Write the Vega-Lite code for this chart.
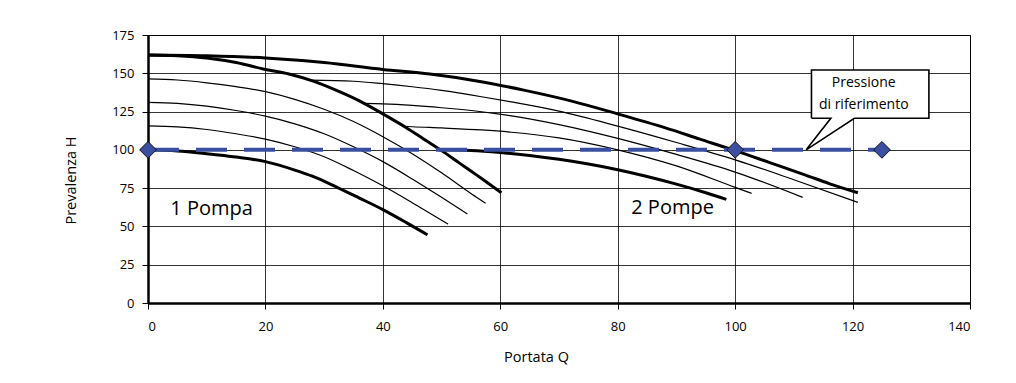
{
  "$schema": "https://vega.github.io/schema/vega-lite/v6.json",
  "width": 822,
  "height": 268,
  "autosize": {"type": "none"},
  "padding": {"left": 148, "top": 35, "right": 46, "bottom": 80},
  "background": "white",
  "config": {
    "view": {"stroke": "#000", "strokeWidth": 1},
    "font": "Open Sans",
    "axis": {
      "gridColor": "#000", "gridWidth": 0.8, "gridOpacity": 1,
      "domainColor": "#000", "domainWidth": 2.5,
      "tickColor": "#000", "tickSize": 6, "tickWidth": 1,
      "labelColor": "#000", "labelFontSize": 13, "labelFont": "Open Sans",
      "titleColor": "#000", "titleFontSize": 14.5, "titleFontWeight": "normal", "titleFont": "Open Sans"
    }
  },
  "datasets": {
    "curve": [
      {"curva": "1P-max", "livello": "spessa", "Q": 0, "H": 162},
      {"curva": "1P-max", "livello": "spessa", "Q": 5, "H": 161.5},
      {"curva": "1P-max", "livello": "spessa", "Q": 10, "H": 160},
      {"curva": "1P-max", "livello": "spessa", "Q": 15, "H": 157},
      {"curva": "1P-max", "livello": "spessa", "Q": 20, "H": 152.5},
      {"curva": "1P-max", "livello": "spessa", "Q": 24, "H": 149.5},
      {"curva": "1P-max", "livello": "spessa", "Q": 28, "H": 145},
      {"curva": "1P-max", "livello": "spessa", "Q": 32, "H": 139},
      {"curva": "1P-max", "livello": "spessa", "Q": 36, "H": 132},
      {"curva": "1P-max", "livello": "spessa", "Q": 40, "H": 123.5},
      {"curva": "1P-max", "livello": "spessa", "Q": 44, "H": 114.5},
      {"curva": "1P-max", "livello": "spessa", "Q": 47, "H": 107},
      {"curva": "1P-max", "livello": "spessa", "Q": 50, "H": 99.5},
      {"curva": "1P-max", "livello": "spessa", "Q": 53, "H": 91.5},
      {"curva": "1P-max", "livello": "spessa", "Q": 56, "H": 83.5},
      {"curva": "1P-max", "livello": "spessa", "Q": 58, "H": 78},
      {"curva": "1P-max", "livello": "spessa", "Q": 60.2, "H": 72},

      {"curva": "1P-146", "livello": "sottile", "Q": 0, "H": 146.3},
      {"curva": "1P-146", "livello": "sottile", "Q": 5, "H": 145.6},
      {"curva": "1P-146", "livello": "sottile", "Q": 10, "H": 143.8},
      {"curva": "1P-146", "livello": "sottile", "Q": 15, "H": 141.3},
      {"curva": "1P-146", "livello": "sottile", "Q": 20, "H": 138},
      {"curva": "1P-146", "livello": "sottile", "Q": 25, "H": 133},
      {"curva": "1P-146", "livello": "sottile", "Q": 30, "H": 126.5},
      {"curva": "1P-146", "livello": "sottile", "Q": 35, "H": 118.5},
      {"curva": "1P-146", "livello": "sottile", "Q": 40, "H": 108.6},
      {"curva": "1P-146", "livello": "sottile", "Q": 45, "H": 97.5},
      {"curva": "1P-146", "livello": "sottile", "Q": 50, "H": 85},
      {"curva": "1P-146", "livello": "sottile", "Q": 55, "H": 71.5},
      {"curva": "1P-146", "livello": "sottile", "Q": 57.5, "H": 65.1},

      {"curva": "1P-131", "livello": "sottile", "Q": 0, "H": 131},
      {"curva": "1P-131", "livello": "sottile", "Q": 5, "H": 130.3},
      {"curva": "1P-131", "livello": "sottile", "Q": 10, "H": 128.5},
      {"curva": "1P-131", "livello": "sottile", "Q": 15, "H": 125.7},
      {"curva": "1P-131", "livello": "sottile", "Q": 20, "H": 122},
      {"curva": "1P-131", "livello": "sottile", "Q": 25, "H": 117},
      {"curva": "1P-131", "livello": "sottile", "Q": 30, "H": 110.5},
      {"curva": "1P-131", "livello": "sottile", "Q": 35, "H": 102},
      {"curva": "1P-131", "livello": "sottile", "Q": 40, "H": 92.3},
      {"curva": "1P-131", "livello": "sottile", "Q": 45, "H": 81},
      {"curva": "1P-131", "livello": "sottile", "Q": 50, "H": 69},
      {"curva": "1P-131", "livello": "sottile", "Q": 54.4, "H": 58.1},

      {"curva": "1P-116", "livello": "sottile", "Q": 0, "H": 115.6},
      {"curva": "1P-116", "livello": "sottile", "Q": 5, "H": 115},
      {"curva": "1P-116", "livello": "sottile", "Q": 10, "H": 113.3},
      {"curva": "1P-116", "livello": "sottile", "Q": 15, "H": 110.5},
      {"curva": "1P-116", "livello": "sottile", "Q": 20, "H": 107},
      {"curva": "1P-116", "livello": "sottile", "Q": 25, "H": 102},
      {"curva": "1P-116", "livello": "sottile", "Q": 30, "H": 95.5},
      {"curva": "1P-116", "livello": "sottile", "Q": 35, "H": 86.5},
      {"curva": "1P-116", "livello": "sottile", "Q": 40, "H": 76.5},
      {"curva": "1P-116", "livello": "sottile", "Q": 45, "H": 65.5},
      {"curva": "1P-116", "livello": "sottile", "Q": 51.1, "H": 51.5},

      {"curva": "1P-min", "livello": "spessa", "Q": 0, "H": 100},
      {"curva": "1P-min", "livello": "spessa", "Q": 5, "H": 99.3},
      {"curva": "1P-min", "livello": "spessa", "Q": 10, "H": 97.5},
      {"curva": "1P-min", "livello": "spessa", "Q": 15, "H": 95.3},
      {"curva": "1P-min", "livello": "spessa", "Q": 20, "H": 92.3},
      {"curva": "1P-min", "livello": "spessa", "Q": 25, "H": 86.8},
      {"curva": "1P-min", "livello": "spessa", "Q": 28, "H": 82.8},
      {"curva": "1P-min", "livello": "spessa", "Q": 32.2, "H": 75.5},
      {"curva": "1P-min", "livello": "spessa", "Q": 36, "H": 68.5},
      {"curva": "1P-min", "livello": "spessa", "Q": 40, "H": 61},
      {"curva": "1P-min", "livello": "spessa", "Q": 44, "H": 52.5},
      {"curva": "1P-min", "livello": "spessa", "Q": 47.6, "H": 44.5},

      {"curva": "2P-max", "livello": "spessa", "Q": 0, "H": 162},
      {"curva": "2P-max", "livello": "spessa", "Q": 10, "H": 161.5},
      {"curva": "2P-max", "livello": "spessa", "Q": 20, "H": 160},
      {"curva": "2P-max", "livello": "spessa", "Q": 30, "H": 157},
      {"curva": "2P-max", "livello": "spessa", "Q": 40, "H": 152.5},
      {"curva": "2P-max", "livello": "spessa", "Q": 48, "H": 149.5},
      {"curva": "2P-max", "livello": "spessa", "Q": 56, "H": 145},
      {"curva": "2P-max", "livello": "spessa", "Q": 64, "H": 139},
      {"curva": "2P-max", "livello": "spessa", "Q": 72, "H": 132},
      {"curva": "2P-max", "livello": "spessa", "Q": 80, "H": 123.5},
      {"curva": "2P-max", "livello": "spessa", "Q": 88, "H": 114.5},
      {"curva": "2P-max", "livello": "spessa", "Q": 94, "H": 107},
      {"curva": "2P-max", "livello": "spessa", "Q": 100, "H": 99.5},
      {"curva": "2P-max", "livello": "spessa", "Q": 106, "H": 91.5},
      {"curva": "2P-max", "livello": "spessa", "Q": 112, "H": 83.5},
      {"curva": "2P-max", "livello": "spessa", "Q": 116, "H": 78},
      {"curva": "2P-max", "livello": "spessa", "Q": 120.9, "H": 72},

      {"curva": "2P-146", "livello": "sottile", "Q": 27.5, "H": 145.5},
      {"curva": "2P-146", "livello": "sottile", "Q": 35, "H": 144.8},
      {"curva": "2P-146", "livello": "sottile", "Q": 40, "H": 143.2},
      {"curva": "2P-146", "livello": "sottile", "Q": 45, "H": 141.2},
      {"curva": "2P-146", "livello": "sottile", "Q": 50, "H": 138.8},
      {"curva": "2P-146", "livello": "sottile", "Q": 56.8, "H": 134.7},
      {"curva": "2P-146", "livello": "sottile", "Q": 61.9, "H": 131.3},
      {"curva": "2P-146", "livello": "sottile", "Q": 70, "H": 125.3},
      {"curva": "2P-146", "livello": "sottile", "Q": 80, "H": 115.5},
      {"curva": "2P-146", "livello": "sottile", "Q": 90, "H": 104.8},
      {"curva": "2P-146", "livello": "sottile", "Q": 100, "H": 93.5},
      {"curva": "2P-146", "livello": "sottile", "Q": 110, "H": 80.5},
      {"curva": "2P-146", "livello": "sottile", "Q": 120.9, "H": 65.7},

      {"curva": "2P-131", "livello": "sottile", "Q": 36.8, "H": 130.3},
      {"curva": "2P-131", "livello": "sottile", "Q": 40, "H": 130},
      {"curva": "2P-131", "livello": "sottile", "Q": 45, "H": 129},
      {"curva": "2P-131", "livello": "sottile", "Q": 50, "H": 127.5},
      {"curva": "2P-131", "livello": "sottile", "Q": 56.8, "H": 124.9},
      {"curva": "2P-131", "livello": "sottile", "Q": 61.9, "H": 122.2},
      {"curva": "2P-131", "livello": "sottile", "Q": 70, "H": 116.5},
      {"curva": "2P-131", "livello": "sottile", "Q": 80, "H": 107.5},
      {"curva": "2P-131", "livello": "sottile", "Q": 90, "H": 97},
      {"curva": "2P-131", "livello": "sottile", "Q": 100, "H": 85.5},
      {"curva": "2P-131", "livello": "sottile", "Q": 111.5, "H": 69},

      {"curva": "2P-116", "livello": "sottile", "Q": 43.6, "H": 115.4},
      {"curva": "2P-116", "livello": "sottile", "Q": 45, "H": 115.1},
      {"curva": "2P-116", "livello": "sottile", "Q": 50, "H": 114.3},
      {"curva": "2P-116", "livello": "sottile", "Q": 56.8, "H": 113},
      {"curva": "2P-116", "livello": "sottile", "Q": 61.9, "H": 111.5},
      {"curva": "2P-116", "livello": "sottile", "Q": 70, "H": 107.8},
      {"curva": "2P-116", "livello": "sottile", "Q": 80, "H": 100},
      {"curva": "2P-116", "livello": "sottile", "Q": 90, "H": 89.5},
      {"curva": "2P-116", "livello": "sottile", "Q": 100, "H": 75.5},
      {"curva": "2P-116", "livello": "sottile", "Q": 102.8, "H": 71.6},

      {"curva": "2P-min", "livello": "spessa", "Q": 49.5, "H": 100},
      {"curva": "2P-min", "livello": "spessa", "Q": 55, "H": 99.6},
      {"curva": "2P-min", "livello": "spessa", "Q": 60, "H": 98.3},
      {"curva": "2P-min", "livello": "spessa", "Q": 65, "H": 96.3},
      {"curva": "2P-min", "livello": "spessa", "Q": 70, "H": 93.8},
      {"curva": "2P-min", "livello": "spessa", "Q": 75, "H": 90.7},
      {"curva": "2P-min", "livello": "spessa", "Q": 80, "H": 87},
      {"curva": "2P-min", "livello": "spessa", "Q": 85, "H": 82.6},
      {"curva": "2P-min", "livello": "spessa", "Q": 90, "H": 77.6},
      {"curva": "2P-min", "livello": "spessa", "Q": 95, "H": 72},
      {"curva": "2P-min", "livello": "spessa", "Q": 98.5, "H": 67.7}
    ],
    "riferimento": [
      {"Q": 0, "H": 100},
      {"Q": 100, "H": 100},
      {"Q": 125, "H": 100}
    ],
    "box": [
      {"Q": 113, "Q2": 133, "H": 120.6, "H2": 152.1}
    ],
    "contorno": [
      {"ordine": 1, "Q": 113, "H": 120.6},
      {"ordine": 2, "Q": 116.3, "H": 120.6},
      {"ordine": 3, "Q": 112.1, "H": 100},
      {"ordine": 4, "Q": 120.3, "H": 120.6},
      {"ordine": 5, "Q": 133, "H": 120.6},
      {"ordine": 6, "Q": 133, "H": 152.1},
      {"ordine": 7, "Q": 113, "H": 152.1},
      {"ordine": 8, "Q": 113, "H": 120.6}
    ],
    "etichette": [
      {"Q": 3.8, "H": 61.3, "testo": "1 Pompa"},
      {"Q": 82.3, "H": 61.8, "testo": "2 Pompe"}
    ],
    "nota": [
      {"Q": 121.9, "H": 143.5, "testo": "Pressione"},
      {"Q": 121.9, "H": 129.3, "testo": "di riferimento"}
    ]
  },
  "encoding": {
    "x": {
      "field": "Q", "type": "quantitative",
      "scale": {"domain": [0, 140], "nice": false, "zero": false},
      "axis": {
        "title": "Portata Q", "values": [0, 20, 40, 60, 80, 100, 120, 140],
        "grid": true, "labelPadding": 11, "labelOverlap": false,
        "titleX": 388, "titleY": 54, "titleAlign": "center", "titleBaseline": "middle"
      }
    },
    "y": {
      "field": "H", "type": "quantitative",
      "scale": {"domain": [0, 175], "nice": false},
      "axis": {
        "title": "Prevalenza H", "values": [0, 25, 50, 75, 100, 125, 150, 175],
        "grid": true, "labelPadding": 8, "labelOverlap": false,
        "titleX": -77, "titleY": 145, "titleAlign": "center", "titleBaseline": "middle", "titleAngle": -90
      }
    }
  },
  "layer": [
    {
      "data": {"name": "curve"},
      "transform": [{"filter": "datum.livello === 'sottile'"}],
      "mark": {"type": "line", "color": "#000", "interpolate": "monotone", "strokeWidth": 1.2, "strokeCap": "butt"},
      "encoding": {
        "detail": {"field": "curva", "type": "nominal"}
      }
    },
    {
      "data": {"name": "curve"},
      "transform": [{"filter": "datum.livello === 'spessa'"}],
      "mark": {"type": "line", "color": "#000", "interpolate": "monotone", "strokeWidth": 3, "strokeCap": "butt"},
      "encoding": {
        "detail": {"field": "curva", "type": "nominal"}
      }
    },
    {
      "data": {"name": "box"},
      "mark": {"type": "rect", "fill": "white", "stroke": null},
      "encoding": {
        "x2": {"field": "Q2"},
        "y2": {"field": "H2"}
      }
    },
    {
      "data": {"name": "contorno"},
      "mark": {"type": "line", "color": "#000", "strokeWidth": 1.6, "strokeJoin": "miter"},
      "encoding": {
        "order": {"field": "ordine", "type": "quantitative"}
      }
    },
    {
      "data": {"name": "riferimento"},
      "mark": {"type": "line", "color": "#3B4FA0", "strokeWidth": 4, "strokeDash": [31, 17]},
      "encoding": {}
    },
    {
      "data": {"name": "riferimento"},
      "mark": {"type": "point", "shape": "diamond", "filled": true, "size": 280, "fill": "#3B4FA0", "stroke": "#111", "strokeWidth": 1, "opacity": 1},
      "encoding": {}
    },
    {
      "data": {"name": "etichette"},
      "mark": {"type": "text", "fontSize": 20, "align": "left", "baseline": "middle", "color": "#000", "font": "Open Sans"},
      "encoding": {
        "text": {"field": "testo"}
      }
    },
    {
      "data": {"name": "nota"},
      "mark": {"type": "text", "fontSize": 14, "align": "center", "baseline": "middle", "color": "#000", "font": "Open Sans"},
      "encoding": {
        "text": {"field": "testo"}
      }
    }
  ]
}
